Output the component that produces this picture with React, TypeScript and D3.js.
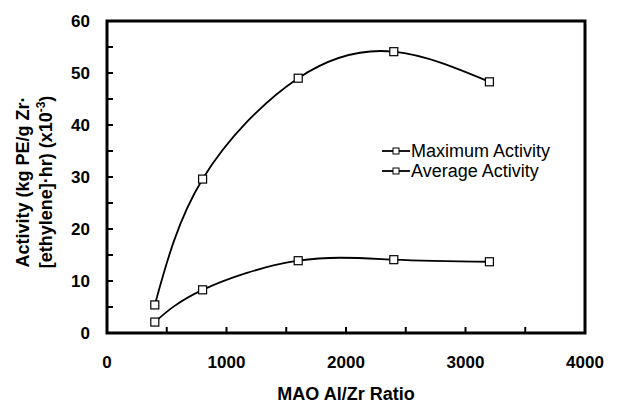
import React, { useEffect, useRef } from 'react';
import * as d3 from 'd3';

const ratios = [400, 800, 1600, 2400, 3200];
const maxActivity = [5.4, 29.6, 49.0, 54.1, 48.3];
const avgActivity = [2.1, 8.3, 13.9, 14.1, 13.7];
const xTicks = [0, 1000, 2000, 3000, 4000];
const yTicks = [0, 10, 20, 30, 40, 50, 60];
const seriesNames = ['Maximum Activity', 'Average Activity'];

const App = () => {
    const ref = useRef(null);

    useEffect(() => {
        const svg = d3.select(ref.current);
        svg.selectAll('*').remove();

        const left = 107, right = 585, top = 21, bottom = 333;
        const x = d3.scaleLinear().domain([0, 4000]).range([left, right]);
        const y = d3.scaleLinear().domain([0, 60]).range([bottom, top]);
        const font = '"Liberation Sans", Arial, sans-serif';

        // frame
        svg.append('rect')
            .attr('x', left).attr('y', top)
            .attr('width', right - left).attr('height', bottom - top)
            .attr('fill', 'none').attr('stroke', '#000').attr('stroke-width', 3);

        // inward ticks
        d3.range(500, 4000, 500).forEach(v => {
            svg.append('line')
                .attr('x1', x(v)).attr('x2', x(v))
                .attr('y1', bottom).attr('y2', bottom - 6)
                .attr('stroke', '#000').attr('stroke-width', 2);
        });
        d3.range(5, 60, 5).forEach(v => {
            svg.append('line')
                .attr('x1', left).attr('x2', left + 6)
                .attr('y1', y(v)).attr('y2', y(v))
                .attr('stroke', '#000').attr('stroke-width', 2);
        });

        // tick labels
        svg.append('g').selectAll('text').data(xTicks).enter().append('text')
            .attr('x', d => x(d)).attr('y', 368)
            .attr('text-anchor', 'middle')
            .style('font-family', font).style('font-weight', 'bold').style('font-size', '17px')
            .text(d => d);
        svg.append('g').selectAll('text').data(yTicks).enter().append('text')
            .attr('x', 90).attr('y', d => y(d) + 6)
            .attr('text-anchor', 'end')
            .style('font-family', font).style('font-weight', 'bold').style('font-size', '17px')
            .text(d => d);

        // axis titles
        svg.append('text')
            .attr('x', (left + right) / 2).attr('y', 400)
            .attr('text-anchor', 'middle')
            .style('font-family', font).style('font-weight', 'bold').style('font-size', '18px')
            .text('MAO Al/Zr Ratio');

        const yt = svg.append('text')
            .attr('transform', 'translate(29,182) rotate(-90)')
            .attr('text-anchor', 'middle')
            .style('font-family', font).style('font-weight', 'bold').style('font-size', '18px');
        yt.append('tspan').attr('x', 0).attr('dy', 0).text('Activity (kg PE/g Zr·');
        const l2 = yt.append('tspan').attr('x', 0).attr('dy', 23);
        l2.append('tspan').text('[ethylene]·hr) (x10');
        l2.append('tspan').attr('dy', -7).style('font-size', '12px').text('-3');
        l2.append('tspan').attr('dy', 7).text(')');

        const line = d3.line()
            .x(d => x(d[0]))
            .y(d => y(d[1]))
            .curve(d3.curveNatural);

        [maxActivity, avgActivity].forEach(vals => {
            const pts = ratios.map((r, i) => [r, vals[i]]);
            svg.append('path')
                .datum(pts)
                .attr('fill', 'none').attr('stroke', '#000').attr('stroke-width', 1.8)
                .attr('d', line);
            svg.append('g').selectAll('rect').data(pts).enter().append('rect')
                .attr('x', d => x(d[0]) - 4).attr('y', d => y(d[1]) - 4)
                .attr('width', 8).attr('height', 8)
                .attr('fill', '#fff').attr('stroke', '#000').attr('stroke-width', 1.2);
        });

        // legend
        seriesNames.forEach((name, i) => {
            const ly = 151 + i * 20;
            svg.append('line')
                .attr('x1', 382).attr('x2', 410).attr('y1', ly).attr('y2', ly)
                .attr('stroke', '#000').attr('stroke-width', 1.8);
            svg.append('rect')
                .attr('x', 393).attr('y', ly - 3).attr('width', 6).attr('height', 6)
                .attr('fill', '#fff').attr('stroke', '#000').attr('stroke-width', 1);
            svg.append('text')
                .attr('x', 411).attr('y', ly + 6)
                .style('font-family', font).style('font-size', '18px')
                .text(name);
        });
    }, []);

    return <svg ref={ref} width={644} height={403} style={{ position: 'absolute', left: 0, top: 0, background: '#fff' }} />;
};

export default App;
